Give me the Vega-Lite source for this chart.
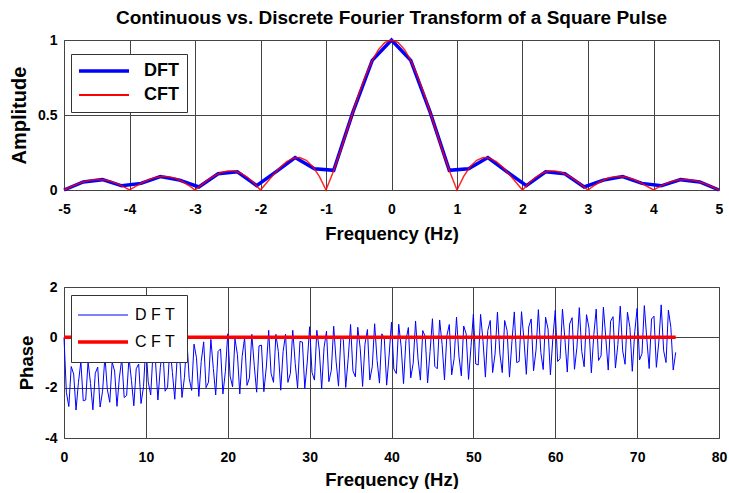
{
 "$schema": "https://vega.github.io/schema/vega-lite/v6.json",
 "padding": {"left": 9, "top": 8, "right": 5, "bottom": 0},
 "background": "#ffffff",
 "spacing": 36,
 "resolve": {"scale": {"color": "independent"}, "legend": {"color": "independent"}},
 "config": {
  "font": "Liberation Sans",
  "view": {"stroke": "#555", "strokeWidth": 1},
  "axis": {"labelFont": "Liberation Sans", "labelFontSize": 14, "labelFontWeight": "bold", "labelColor": "#000", "titleFont": "Liberation Sans", "titleFontSize": 18.5, "titleFontWeight": "bold", "titleColor": "#000", "grid": true, "gridColor": "#444", "gridOpacity": 1, "gridWidth": 1, "domain": false, "ticks": false, "labelExpr": "'' + datum.value"},
  "axisX": {"labelFlush": false, "labelPadding": 12, "titlePadding": 8},
  "axisY": {"labelPadding": 7, "titlePadding": 8}
 },
 "vconcat": [
  {
   "title": {"text": "Continuous vs. Discrete Fourier Transform of a Square Pulse", "fontSize": 19, "fontWeight": "bold", "font": "Liberation Sans", "color": "#000", "anchor": "middle", "offset": 5},
   "width": 655, "height": 150,
   "encoding": {
    "x": {"field": "f", "type": "quantitative", "scale": {"domain": [-5, 5], "nice": false, "zero": false}, "axis": {"values": [-5,-4,-3,-2,-1,0,1,2,3,4,5], "title": "Frequency (Hz)"}},
    "y": {"field": "a", "type": "quantitative", "scale": {"domain": [0, 1], "nice": false}, "axis": {"values": [0, 0.5, 1], "title": "Amplitude", "titleFontSize": 20}},
    "color": {"field": "s", "type": "nominal", "scale": {"domain": ["DFT", "CFT"], "range": ["#0000ff", "#ff0000"]},
     "legend": {"orient": "none", "legendX": 7, "legendY": 14, "title": null, "fillColor": "#ffffff", "strokeColor": "#333333", "padding": 8, "symbolType": "stroke", "symbolSize": 2500, "symbolStrokeWidth": 3, "symbolOffset": 16, "labelFontSize": 18, "labelFontWeight": "bold", "labelColor": "#000", "labelFont": "Liberation Sans", "labelOffset": 31, "rowPadding": 6,
      "encode": {"symbols": {"update": {"strokeWidth": {"signal": "datum.value === 'DFT' ? 3.5 : 2"}}}}}}
   },
   "layer": [
    {"data": {"values": [
     {"f": -5, "a": 0, "s": "DFT"}, {"f": -4.706, "a": 0.054, "s": "DFT"}, {"f": -4.412, "a": 0.069, "s": "DFT"}, {"f": -4.118, "a": 0.028, "s": "DFT"}, {"f": -3.824, "a": 0.044, "s": "DFT"}, {"f": -3.529, "a": 0.09, "s": "DFT"}, {"f": -3.235, "a": 0.066, "s": "DFT"}, {"f": -2.941, "a": 0.02, "s": "DFT"}, {"f": -2.647, "a": 0.108, "s": "DFT"}, {"f": -2.353, "a": 0.121, "s": "DFT"}, {"f": -2.059, "a": 0.029, "s": "DFT"}, {"f": -1.765, "a": 0.121, "s": "DFT"}, {"f": -1.471, "a": 0.216, "s": "DFT"}, {"f": -1.176, "a": 0.142, "s": "DFT"}, {"f": -0.882, "a": 0.131, "s": "DFT"}, {"f": -0.588, "a": 0.521, "s": "DFT"}, {"f": -0.294, "a": 0.864, "s": "DFT"}, {"f": 0, "a": 1, "s": "DFT"},
     {"f": 0.294, "a": 0.864, "s": "DFT"}, {"f": 0.588, "a": 0.521, "s": "DFT"}, {"f": 0.882, "a": 0.131, "s": "DFT"}, {"f": 1.176, "a": 0.142, "s": "DFT"}, {"f": 1.471, "a": 0.216, "s": "DFT"}, {"f": 1.765, "a": 0.121, "s": "DFT"}, {"f": 2.059, "a": 0.029, "s": "DFT"}, {"f": 2.353, "a": 0.121, "s": "DFT"}, {"f": 2.647, "a": 0.108, "s": "DFT"}, {"f": 2.941, "a": 0.02, "s": "DFT"}, {"f": 3.235, "a": 0.066, "s": "DFT"}, {"f": 3.529, "a": 0.09, "s": "DFT"}, {"f": 3.824, "a": 0.044, "s": "DFT"}, {"f": 4.118, "a": 0.028, "s": "DFT"}, {"f": 4.412, "a": 0.069, "s": "DFT"}, {"f": 4.706, "a": 0.054, "s": "DFT"}, {"f": 5, "a": 0, "s": "DFT"}
    ]}, "mark": {"type": "line", "strokeWidth": 3.5}},
    {"data": {"values": [
     {"f": -5, "a": 0, "s": "CFT"}, {"f": -4.9, "a": 0.0201, "s": "CFT"}, {"f": -4.8, "a": 0.039, "s": "CFT"}, {"f": -4.7, "a": 0.0548, "s": "CFT"}, {"f": -4.6, "a": 0.0658, "s": "CFT"}, {"f": -4.5, "a": 0.0707, "s": "CFT"}, {"f": -4.4, "a": 0.0688, "s": "CFT"}, {"f": -4.3, "a": 0.0599, "s": "CFT"}, {"f": -4.2, "a": 0.0445, "s": "CFT"}, {"f": -4.1, "a": 0.024, "s": "CFT"},
     {"f": -4, "a": 0, "s": "CFT"}, {"f": -3.9, "a": 0.0252, "s": "CFT"}, {"f": -3.8, "a": 0.0492, "s": "CFT"}, {"f": -3.7, "a": 0.0696, "s": "CFT"}, {"f": -3.6, "a": 0.0841, "s": "CFT"}, {"f": -3.5, "a": 0.0909, "s": "CFT"}, {"f": -3.4, "a": 0.089, "s": "CFT"}, {"f": -3.3, "a": 0.078, "s": "CFT"}, {"f": -3.2, "a": 0.0585, "s": "CFT"}, {"f": -3.1, "a": 0.0317, "s": "CFT"},
     {"f": -3, "a": 0, "s": "CFT"}, {"f": -2.9, "a": 0.0339, "s": "CFT"}, {"f": -2.8, "a": 0.0668, "s": "CFT"}, {"f": -2.7, "a": 0.0954, "s": "CFT"}, {"f": -2.6, "a": 0.1164, "s": "CFT"}, {"f": -2.5, "a": 0.1273, "s": "CFT"}, {"f": -2.4, "a": 0.1261, "s": "CFT"}, {"f": -2.3, "a": 0.112, "s": "CFT"}, {"f": -2.2, "a": 0.085, "s": "CFT"}, {"f": -2.1, "a": 0.0468, "s": "CFT"},
     {"f": -2, "a": 0, "s": "CFT"}, {"f": -1.9, "a": 0.0518, "s": "CFT"}, {"f": -1.8, "a": 0.1039, "s": "CFT"}, {"f": -1.7, "a": 0.1515, "s": "CFT"}, {"f": -1.6, "a": 0.1892, "s": "CFT"}, {"f": -1.5, "a": 0.2122, "s": "CFT"}, {"f": -1.4, "a": 0.2162, "s": "CFT"}, {"f": -1.3, "a": 0.1981, "s": "CFT"}, {"f": -1.2, "a": 0.1559, "s": "CFT"}, {"f": -1.1, "a": 0.0894, "s": "CFT"},
     {"f": -1, "a": 0, "s": "CFT"}, {"f": -0.9, "a": 0.1093, "s": "CFT"}, {"f": -0.8, "a": 0.2339, "s": "CFT"}, {"f": -0.7, "a": 0.3679, "s": "CFT"}, {"f": -0.6, "a": 0.5046, "s": "CFT"}, {"f": -0.5, "a": 0.6366, "s": "CFT"}, {"f": -0.4, "a": 0.7568, "s": "CFT"}, {"f": -0.3, "a": 0.8584, "s": "CFT"}, {"f": -0.2, "a": 0.9355, "s": "CFT"}, {"f": -0.1, "a": 0.9836, "s": "CFT"},
     {"f": 0, "a": 1, "s": "CFT"},
     {"f": 0.1, "a": 0.9836, "s": "CFT"}, {"f": 0.2, "a": 0.9355, "s": "CFT"}, {"f": 0.3, "a": 0.8584, "s": "CFT"}, {"f": 0.4, "a": 0.7568, "s": "CFT"}, {"f": 0.5, "a": 0.6366, "s": "CFT"}, {"f": 0.6, "a": 0.5046, "s": "CFT"}, {"f": 0.7, "a": 0.3679, "s": "CFT"}, {"f": 0.8, "a": 0.2339, "s": "CFT"}, {"f": 0.9, "a": 0.1093, "s": "CFT"}, {"f": 1, "a": 0, "s": "CFT"},
     {"f": 1.1, "a": 0.0894, "s": "CFT"}, {"f": 1.2, "a": 0.1559, "s": "CFT"}, {"f": 1.3, "a": 0.1981, "s": "CFT"}, {"f": 1.4, "a": 0.2162, "s": "CFT"}, {"f": 1.5, "a": 0.2122, "s": "CFT"}, {"f": 1.6, "a": 0.1892, "s": "CFT"}, {"f": 1.7, "a": 0.1515, "s": "CFT"}, {"f": 1.8, "a": 0.1039, "s": "CFT"}, {"f": 1.9, "a": 0.0518, "s": "CFT"}, {"f": 2, "a": 0, "s": "CFT"},
     {"f": 2.1, "a": 0.0468, "s": "CFT"}, {"f": 2.2, "a": 0.085, "s": "CFT"}, {"f": 2.3, "a": 0.112, "s": "CFT"}, {"f": 2.4, "a": 0.1261, "s": "CFT"}, {"f": 2.5, "a": 0.1273, "s": "CFT"}, {"f": 2.6, "a": 0.1164, "s": "CFT"}, {"f": 2.7, "a": 0.0954, "s": "CFT"}, {"f": 2.8, "a": 0.0668, "s": "CFT"}, {"f": 2.9, "a": 0.0339, "s": "CFT"}, {"f": 3, "a": 0, "s": "CFT"},
     {"f": 3.1, "a": 0.0317, "s": "CFT"}, {"f": 3.2, "a": 0.0585, "s": "CFT"}, {"f": 3.3, "a": 0.078, "s": "CFT"}, {"f": 3.4, "a": 0.089, "s": "CFT"}, {"f": 3.5, "a": 0.0909, "s": "CFT"}, {"f": 3.6, "a": 0.0841, "s": "CFT"}, {"f": 3.7, "a": 0.0696, "s": "CFT"}, {"f": 3.8, "a": 0.0492, "s": "CFT"}, {"f": 3.9, "a": 0.0252, "s": "CFT"}, {"f": 4, "a": 0, "s": "CFT"},
     {"f": 4.1, "a": 0.024, "s": "CFT"}, {"f": 4.2, "a": 0.0445, "s": "CFT"}, {"f": 4.3, "a": 0.0599, "s": "CFT"}, {"f": 4.4, "a": 0.0688, "s": "CFT"}, {"f": 4.5, "a": 0.0707, "s": "CFT"}, {"f": 4.6, "a": 0.0658, "s": "CFT"}, {"f": 4.7, "a": 0.0548, "s": "CFT"}, {"f": 4.8, "a": 0.039, "s": "CFT"}, {"f": 4.9, "a": 0.0201, "s": "CFT"}, {"f": 5, "a": 0, "s": "CFT"}
    ]}, "mark": {"type": "line", "strokeWidth": 1.5, "opacity": 0.85}}
   ]
  },
  {
   "width": 655, "height": 151,
   "encoding": {
    "x": {"field": "f", "type": "quantitative", "scale": {"domain": [0, 80], "nice": false, "zero": false}, "axis": {"values": [0,10,20,30,40,50,60,70,80], "title": "Frequency (Hz)", "titlePadding": 6}},
    "y": {"field": "v", "type": "quantitative", "scale": {"domain": [-4, 2], "nice": false, "zero": false}, "axis": {"values": [-4, -2, 0, 2], "title": "Phase"}},
    "color": {"field": "s", "type": "nominal", "scale": {"domain": ["D F T", "C F T"], "range": ["#0000ff", "#ff0000"]},
     "legend": {"orient": "none", "legendX": 7, "legendY": 8, "title": null, "fillColor": "#ffffff", "strokeColor": "#333333", "padding": 12, "symbolType": "stroke", "symbolSize": 2500, "symbolStrokeWidth": 2, "symbolOffset": 12, "labelFontSize": 16, "labelFontWeight": "normal", "labelColor": "#000", "labelFont": "Liberation Sans", "labelOffset": 24, "rowPadding": 11,
      "encode": {"symbols": {"update": {"strokeWidth": {"signal": "datum.value === 'D F T' ? 1 : 3.5"}}}}}}
   },
   "layer": [
    {"data": {"values": [
     {"f":0,"v":0,"s":"D F T"},{"f":0.29,"v":-2.18,"s":"D F T"},{"f":0.59,"v":-2.75,"s":"D F T"},{"f":0.88,"v":-1.16,"s":"D F T"},{"f":1.18,"v":-1.46,"s":"D F T"},{"f":1.47,"v":-2.89,"s":"D F T"},{"f":1.76,"v":-1.8,"s":"D F T"},{"f":2.06,"v":-0.97,"s":"D F T"},{"f":2.35,"v":-2.52,"s":"D F T"},{"f":2.65,"v":-2.49,"s":"D F T"},{"f":2.94,"v":-0.96,"s":"D F T"},{"f":3.24,"v":-1.83,"s":"D F T"},{"f":3.53,"v":-2.88,"s":"D F T"},{"f":3.82,"v":-1.43,"s":"D F T"},{"f":4.12,"v":-1.18,"s":"D F T"},{"f":4.41,"v":-2.77,"s":"D F T"},{"f":4.71,"v":-2.14,"s":"D F T"},
     {"f":5,"v":-0.75,"s":"D F T"},{"f":5.29,"v":-2.06,"s":"D F T"},{"f":5.59,"v":-2.58,"s":"D F T"},{"f":5.88,"v":-0.98,"s":"D F T"},{"f":6.18,"v":-1.34,"s":"D F T"},{"f":6.47,"v":-2.74,"s":"D F T"},{"f":6.76,"v":-1.61,"s":"D F T"},{"f":7.06,"v":-0.84,"s":"D F T"},{"f":7.35,"v":-2.39,"s":"D F T"},{"f":7.65,"v":-2.31,"s":"D F T"},{"f":7.94,"v":-0.8,"s":"D F T"},{"f":8.24,"v":-1.72,"s":"D F T"},{"f":8.53,"v":-2.72,"s":"D F T"},{"f":8.82,"v":-1.25,"s":"D F T"},{"f":9.12,"v":-1.06,"s":"D F T"},{"f":9.41,"v":-2.63,"s":"D F T"},{"f":9.71,"v":-1.96,"s":"D F T"},
     {"f":10,"v":-0.3,"s":"D F T"},{"f":10.29,"v":-1.78,"s":"D F T"},{"f":10.59,"v":-2.29,"s":"D F T"},{"f":10.88,"v":-0.53,"s":"D F T"},{"f":11.18,"v":-0.99,"s":"D F T"},{"f":11.47,"v":-2.49,"s":"D F T"},{"f":11.76,"v":-1.21,"s":"D F T"},{"f":12.06,"v":-0.41,"s":"D F T"},{"f":12.35,"v":-2.14,"s":"D F T"},{"f":12.65,"v":-1.98,"s":"D F T"},{"f":12.94,"v":-0.34,"s":"D F T"},{"f":13.24,"v":-1.4,"s":"D F T"},{"f":13.53,"v":-2.46,"s":"D F T"},{"f":13.82,"v":-0.82,"s":"D F T"},{"f":14.12,"v":-0.66,"s":"D F T"},{"f":14.41,"v":-2.39,"s":"D F T"},{"f":14.71,"v":-1.59,"s":"D F T"},
     {"f":15,"v":-0.06,"s":"D F T"},{"f":15.29,"v":-1.63,"s":"D F T"},{"f":15.59,"v":-2.11,"s":"D F T"},{"f":15.88,"v":-0.27,"s":"D F T"},{"f":16.18,"v":-0.81,"s":"D F T"},{"f":16.47,"v":-2.35,"s":"D F T"},{"f":16.76,"v":-0.96,"s":"D F T"},{"f":17.06,"v":-0.18,"s":"D F T"},{"f":17.35,"v":-2.0,"s":"D F T"},{"f":17.65,"v":-1.78,"s":"D F T"},{"f":17.94,"v":-0.08,"s":"D F T"},{"f":18.24,"v":-1.24,"s":"D F T"},{"f":18.53,"v":-2.29,"s":"D F T"},{"f":18.82,"v":-0.56,"s":"D F T"},{"f":19.12,"v":-0.46,"s":"D F T"},{"f":19.41,"v":-2.25,"s":"D F T"},{"f":19.71,"v":-1.36,"s":"D F T"},
     {"f":20,"v":0.14,"s":"D F T"},{"f":20.29,"v":-1.54,"s":"D F T"},{"f":20.59,"v":-1.97,"s":"D F T"},{"f":20.88,"v":-0.06,"s":"D F T"},{"f":21.18,"v":-0.68,"s":"D F T"},{"f":21.47,"v":-2.25,"s":"D F T"},{"f":21.76,"v":-0.76,"s":"D F T"},{"f":22.06,"v":-0.01,"s":"D F T"},{"f":22.35,"v":-1.91,"s":"D F T"},{"f":22.65,"v":-1.61,"s":"D F T"},{"f":22.94,"v":0.12,"s":"D F T"},{"f":23.24,"v":-1.13,"s":"D F T"},{"f":23.53,"v":-2.18,"s":"D F T"},{"f":23.82,"v":-0.34,"s":"D F T"},{"f":24.12,"v":-0.31,"s":"D F T"},{"f":24.41,"v":-2.16,"s":"D F T"},{"f":24.71,"v":-1.18,"s":"D F T"},
     {"f":25,"v":0.28,"s":"D F T"},{"f":25.29,"v":-1.43,"s":"D F T"},{"f":25.59,"v":-1.79,"s":"D F T"},{"f":25.88,"v":0.12,"s":"D F T"},{"f":26.18,"v":-0.57,"s":"D F T"},{"f":26.47,"v":-2.1,"s":"D F T"},{"f":26.76,"v":-0.57,"s":"D F T"},{"f":27.06,"v":0.12,"s":"D F T"},{"f":27.35,"v":-1.79,"s":"D F T"},{"f":27.65,"v":-1.43,"s":"D F T"},{"f":27.94,"v":0.28,"s":"D F T"},{"f":28.24,"v":-1.03,"s":"D F T"},{"f":28.53,"v":-2.01,"s":"D F T"},{"f":28.82,"v":-0.16,"s":"D F T"},{"f":29.12,"v":-0.19,"s":"D F T"},{"f":29.41,"v":-2.03,"s":"D F T"},{"f":29.71,"v":-0.98,"s":"D F T"},
     {"f":30,"v":0.42,"s":"D F T"},{"f":30.29,"v":-1.39,"s":"D F T"},{"f":30.59,"v":-1.7,"s":"D F T"},{"f":30.88,"v":0.28,"s":"D F T"},{"f":31.18,"v":-0.5,"s":"D F T"},{"f":31.47,"v":-2.05,"s":"D F T"},{"f":31.76,"v":-0.41,"s":"D F T"},{"f":32.06,"v":0.24,"s":"D F T"},{"f":32.35,"v":-1.76,"s":"D F T"},{"f":32.65,"v":-1.31,"s":"D F T"},{"f":32.94,"v":0.44,"s":"D F T"},{"f":33.24,"v":-0.97,"s":"D F T"},{"f":33.53,"v":-1.94,"s":"D F T"},{"f":33.82,"v":0.0,"s":"D F T"},{"f":34.12,"v":-0.1,"s":"D F T"},{"f":34.41,"v":-1.99,"s":"D F T"},{"f":34.71,"v":-0.84,"s":"D F T"},
     {"f":35,"v":0.51,"s":"D F T"},{"f":35.29,"v":-1.33,"s":"D F T"},{"f":35.59,"v":-1.57,"s":"D F T"},{"f":35.88,"v":0.4,"s":"D F T"},{"f":36.18,"v":-0.44,"s":"D F T"},{"f":36.47,"v":-1.95,"s":"D F T"},{"f":36.76,"v":-0.27,"s":"D F T"},{"f":37.06,"v":0.31,"s":"D F T"},{"f":37.35,"v":-1.69,"s":"D F T"},{"f":37.65,"v":-1.17,"s":"D F T"},{"f":37.94,"v":0.54,"s":"D F T"},{"f":38.24,"v":-0.92,"s":"D F T"},{"f":38.53,"v":-1.82,"s":"D F T"},{"f":38.82,"v":0.14,"s":"D F T"},{"f":39.12,"v":-0.04,"s":"D F T"},{"f":39.41,"v":-1.9,"s":"D F T"},{"f":39.71,"v":-0.7,"s":"D F T"},
     {"f":40,"v":0.6,"s":"D F T"},{"f":40.29,"v":-1.26,"s":"D F T"},{"f":40.59,"v":-1.44,"s":"D F T"},{"f":40.88,"v":0.52,"s":"D F T"},{"f":41.18,"v":-0.38,"s":"D F T"},{"f":41.47,"v":-1.84,"s":"D F T"},{"f":41.76,"v":-0.13,"s":"D F T"},{"f":42.06,"v":0.39,"s":"D F T"},{"f":42.35,"v":-1.61,"s":"D F T"},{"f":42.65,"v":-1.03,"s":"D F T"},{"f":42.94,"v":0.65,"s":"D F T"},{"f":43.24,"v":-0.86,"s":"D F T"},{"f":43.53,"v":-1.7,"s":"D F T"},{"f":43.82,"v":0.27,"s":"D F T"},{"f":44.12,"v":0.03,"s":"D F T"},{"f":44.41,"v":-1.81,"s":"D F T"},{"f":44.71,"v":-0.56,"s":"D F T"},
     {"f":45,"v":0.74,"s":"D F T"},{"f":45.29,"v":-1.15,"s":"D F T"},{"f":45.59,"v":-1.25,"s":"D F T"},{"f":45.88,"v":0.69,"s":"D F T"},{"f":46.18,"v":-0.28,"s":"D F T"},{"f":46.47,"v":-1.69,"s":"D F T"},{"f":46.76,"v":0.06,"s":"D F T"},{"f":47.06,"v":0.51,"s":"D F T"},{"f":47.35,"v":-1.49,"s":"D F T"},{"f":47.65,"v":-0.84,"s":"D F T"},{"f":47.94,"v":0.8,"s":"D F T"},{"f":48.24,"v":-0.75,"s":"D F T"},{"f":48.53,"v":-1.53,"s":"D F T"},{"f":48.82,"v":0.45,"s":"D F T"},{"f":49.12,"v":0.14,"s":"D F T"},{"f":49.41,"v":-1.67,"s":"D F T"},{"f":49.71,"v":-0.36,"s":"D F T"},
     {"f":50,"v":0.92,"s":"D F T"},{"f":50.29,"v":-1.06,"s":"D F T"},{"f":50.59,"v":-1.1,"s":"D F T"},{"f":50.88,"v":0.91,"s":"D F T"},{"f":51.18,"v":-0.16,"s":"D F T"},{"f":51.47,"v":-1.58,"s":"D F T"},{"f":51.76,"v":0.27,"s":"D F T"},{"f":52.06,"v":0.67,"s":"D F T"},{"f":52.35,"v":-1.4,"s":"D F T"},{"f":52.65,"v":-0.66,"s":"D F T"},{"f":52.94,"v":1.0,"s":"D F T"},{"f":53.24,"v":-0.66,"s":"D F T"},{"f":53.53,"v":-1.4,"s":"D F T"},{"f":53.82,"v":0.67,"s":"D F T"},{"f":54.12,"v":0.27,"s":"D F T"},{"f":54.41,"v":-1.58,"s":"D F T"},{"f":54.71,"v":-0.16,"s":"D F T"},
     {"f":55,"v":1.01,"s":"D F T"},{"f":55.29,"v":-1.0,"s":"D F T"},{"f":55.59,"v":-0.96,"s":"D F T"},{"f":55.88,"v":1.02,"s":"D F T"},{"f":56.18,"v":-0.11,"s":"D F T"},{"f":56.47,"v":-1.47,"s":"D F T"},{"f":56.76,"v":0.41,"s":"D F T"},{"f":57.06,"v":0.73,"s":"D F T"},{"f":57.35,"v":-1.33,"s":"D F T"},{"f":57.65,"v":-0.51,"s":"D F T"},{"f":57.94,"v":1.1,"s":"D F T"},{"f":58.24,"v":-0.6,"s":"D F T"},{"f":58.53,"v":-1.28,"s":"D F T"},{"f":58.82,"v":0.8,"s":"D F T"},{"f":59.12,"v":0.33,"s":"D F T"},{"f":59.41,"v":-1.49,"s":"D F T"},{"f":59.71,"v":-0.02,"s":"D F T"},
     {"f":60,"v":1.07,"s":"D F T"},{"f":60.29,"v":-0.96,"s":"D F T"},{"f":60.59,"v":-0.85,"s":"D F T"},{"f":60.88,"v":1.12,"s":"D F T"},{"f":61.18,"v":-0.07,"s":"D F T"},{"f":61.47,"v":-1.38,"s":"D F T"},{"f":61.76,"v":0.53,"s":"D F T"},{"f":62.06,"v":0.78,"s":"D F T"},{"f":62.35,"v":-1.27,"s":"D F T"},{"f":62.65,"v":-0.39,"s":"D F T"},{"f":62.94,"v":1.18,"s":"D F T"},{"f":63.24,"v":-0.56,"s":"D F T"},{"f":63.53,"v":-1.17,"s":"D F T"},{"f":63.82,"v":0.9,"s":"D F T"},{"f":64.12,"v":0.37,"s":"D F T"},{"f":64.41,"v":-1.41,"s":"D F T"},{"f":64.71,"v":0.11,"s":"D F T"},
     {"f":65,"v":1.12,"s":"D F T"},{"f":65.29,"v":-0.92,"s":"D F T"},{"f":65.59,"v":-0.74,"s":"D F T"},{"f":65.88,"v":1.2,"s":"D F T"},{"f":66.18,"v":-0.05,"s":"D F T"},{"f":66.47,"v":-1.3,"s":"D F T"},{"f":66.76,"v":0.64,"s":"D F T"},{"f":67.06,"v":0.82,"s":"D F T"},{"f":67.35,"v":-1.22,"s":"D F T"},{"f":67.65,"v":-0.28,"s":"D F T"},{"f":67.94,"v":1.24,"s":"D F T"},{"f":68.24,"v":-0.54,"s":"D F T"},{"f":68.53,"v":-1.07,"s":"D F T"},{"f":68.82,"v":1.0,"s":"D F T"},{"f":69.12,"v":0.39,"s":"D F T"},{"f":69.41,"v":-1.35,"s":"D F T"},{"f":69.71,"v":0.22,"s":"D F T"},
     {"f":70,"v":1.15,"s":"D F T"},{"f":70.29,"v":-0.9,"s":"D F T"},{"f":70.59,"v":-0.65,"s":"D F T"},{"f":70.88,"v":1.26,"s":"D F T"},{"f":71.18,"v":-0.05,"s":"D F T"},{"f":71.47,"v":-1.24,"s":"D F T"},{"f":71.76,"v":0.73,"s":"D F T"},{"f":72.06,"v":0.84,"s":"D F T"},{"f":72.35,"v":-1.19,"s":"D F T"},{"f":72.65,"v":-0.18,"s":"D F T"},{"f":72.94,"v":1.29,"s":"D F T"},{"f":73.24,"v":-0.53,"s":"D F T"},{"f":73.53,"v":-1.0,"s":"D F T"},{"f":73.82,"v":1.08,"s":"D F T"},{"f":74.12,"v":0.4,"s":"D F T"},{"f":74.41,"v":-1.3,"s":"D F T"},{"f":74.71,"v":-0.6,"s":"D F T"}
    ]}, "mark": {"type": "line", "strokeWidth": 1}},
    {"data": {"values": [
     {"f": 0, "v": 0, "s": "C F T"}, {"f": 74.71, "v": 0, "s": "C F T"}
    ]}, "mark": {"type": "line", "strokeWidth": 3.5}}
   ]
  }
 ]
}
